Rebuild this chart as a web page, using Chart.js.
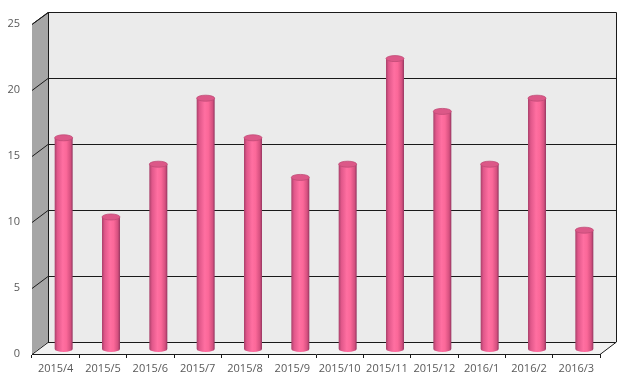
<!DOCTYPE html>
<html><head><meta charset="utf-8">
<script src="https://cdn.jsdelivr.net/npm/chart.js@4/dist/chart.umd.min.js"></script>
<style>html,body{margin:0;padding:0;background:#fff}#w{width:627px;height:388px}</style>
</head><body><div id="w"><canvas id="c"></canvas></div>
<script>
const categories = ['2015/4','2015/5','2015/6','2015/7','2015/8','2015/9','2015/10','2015/11','2015/12','2016/1','2016/2','2016/3'];
const values = [16,10,14,19,16,13,14,22,18,14,19,9];
const yMin = 0, yMax = 25, yStep = 5;

const DX = 16, DY = -12;
const walls = {
  id: 'walls',
  beforeDatasetsDraw(chart) {
    const {ctx, chartArea: a, scales: {y}} = chart;
    ctx.save();
    ctx.fillStyle = '#a6a6a6';
    ctx.beginPath();
    ctx.moveTo(a.left, a.top); ctx.lineTo(a.left+DX, a.top+DY);
    ctx.lineTo(a.left+DX, a.bottom+DY); ctx.lineTo(a.left, a.bottom); ctx.closePath(); ctx.fill();
    ctx.fillStyle = '#ebebeb';
    ctx.fillRect(a.left+DX, a.top+DY, a.right-a.left, a.bottom-a.top);
    ctx.fillStyle = '#f2f2f2';
    ctx.beginPath();
    ctx.moveTo(a.left, a.bottom); ctx.lineTo(a.left+DX, a.bottom+DY);
    ctx.lineTo(a.right+DX, a.bottom+DY); ctx.lineTo(a.right, a.bottom); ctx.closePath(); ctx.fill();
    ctx.strokeStyle = '#1a1a1a'; ctx.lineWidth = 1;
    for (let v = yMin; v <= yMax; v += yStep) {
      const py = Math.round(y.getPixelForValue(v)) + 0.5;
      ctx.beginPath();
      ctx.moveTo(a.left, py); ctx.lineTo(a.left+DX, py+DY); ctx.lineTo(a.right+DX, py+DY);
      ctx.stroke();
    }
    ctx.beginPath();
    ctx.moveTo(a.left+0.5, a.top); ctx.lineTo(a.left+DX+0.5, a.top+DY+0.5);
    ctx.lineTo(a.right+DX+0.5, a.top+DY+0.5); ctx.lineTo(a.right+DX+0.5, a.bottom+DY);
    ctx.lineTo(a.right, a.bottom+0.5);
    ctx.moveTo(a.left+DX+0.5, a.top+DY); ctx.lineTo(a.left+DX+0.5, a.bottom+DY);
    ctx.stroke();
    ctx.restore();
  },
  afterDatasetsDraw(chart) {
    const {ctx} = chart;
    const meta = chart.getDatasetMeta(0);
    ctx.save();
    meta.data.forEach(el => {
      const cx = el.x + DX/2, top = el.y + DY/2 + 1, base = el.base + DY/2 + 1;
      const r = el.width/2, ry = 3;
      const g = ctx.createLinearGradient(cx-r, 0, cx+r, 0);
      g.addColorStop(0, '#a8406a');
      g.addColorStop(0.15, '#e0578a');
      g.addColorStop(0.45, '#ff6fa1');
      g.addColorStop(0.65, '#fb6899');
      g.addColorStop(0.88, '#d5507f');
      g.addColorStop(1, '#943660');
      ctx.fillStyle = g;
      ctx.beginPath();
      ctx.moveTo(cx-r, top);
      ctx.lineTo(cx-r, base);
      ctx.ellipse(cx, base, r, ry, 0, Math.PI, 0, true);
      ctx.lineTo(cx+r, top);
      ctx.closePath();
      ctx.fill();
      ctx.fillStyle = '#dc5888';
      ctx.strokeStyle = '#c04a76';
      ctx.lineWidth = 0.8;
      ctx.beginPath();
      ctx.ellipse(cx, top, r, ry, 0, 0, Math.PI*2);
      ctx.fill(); ctx.stroke();
    });
    ctx.restore();
  }
};

new Chart(document.getElementById('c'), {
  type: 'bar',
  data: { labels: categories, datasets: [{ data: values, backgroundColor: 'rgba(0,0,0,0)', borderWidth: 0, barPercentage: 0.38, categoryPercentage: 1 }] },
  options: {
    responsive: true, maintainAspectRatio: false, animation: false,
    layout: { padding: { top: 24, right: 27, left: 0, bottom: 0 } },
    plugins: { legend: { display: false }, tooltip: { enabled: false } },
    scales: {
      x: {
        offset: true,
        grid: { display: true, drawOnChartArea: false, drawTicks: true, tickLength: 4, color: '#1a1a1a', offset: true },
        border: { display: true, color: '#1a1a1a' },
        ticks: { color: '#595959', font: { family: 'Open Sans', size: 11 }, padding: 4, maxRotation: 0, autoSkip: false },
        afterFit(s) { s.height = 34; }
      },
      y: {
        min: yMin, max: yMax,
        grid: { display: false, drawTicks: false, tickLength: 0 },
        border: { display: true, color: '#1a1a1a' },
        ticks: { stepSize: yStep, color: '#595959', font: { family: 'Open Sans', size: 11 }, padding: 12 },
        afterFit(s) { s.width = 32; }
      }
    }
  },
  plugins: [walls]
});
</script></body></html>
